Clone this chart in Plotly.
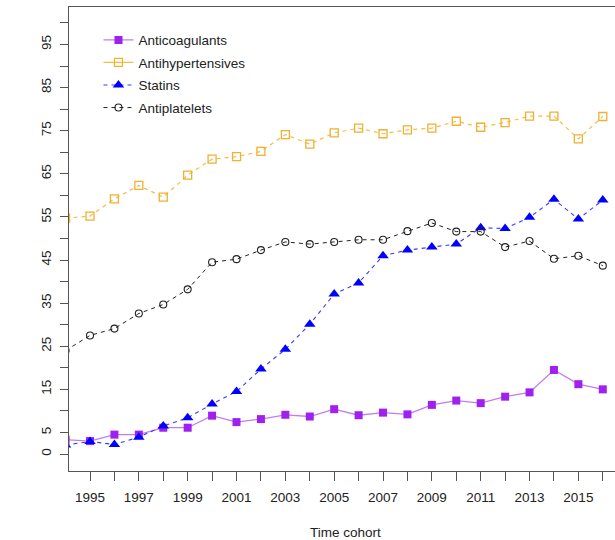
import plotly.graph_objects as go

years = list(range(1994, 2017))

anticoagulants = [3.3, 3.0, 4.5, 4.5, 6.1, 6.1, 8.9, 7.4, 8.1, 9.1, 8.7, 10.4, 9.0,
                  9.6, 9.2, 11.4, 12.4, 11.8, 13.3, 14.3, 19.5, 16.2, 15.0]
antihypertensives = [54.7, 55.2, 59.2, 62.3, 59.6, 64.7, 68.4, 69.0, 70.2, 74.1, 71.9, 74.5,
                     75.6, 74.3, 75.2, 75.6, 77.2, 75.8, 76.9, 78.4, 78.4, 73.1, 78.3]
statins = [2.1, 2.9, 2.2, 3.9, 6.5, 8.4, 11.6, 14.5, 19.7, 24.3, 30.1, 37.1, 39.7,
           46.0, 47.3, 48.0, 48.7, 52.5, 52.3, 54.9, 59.1, 54.5, 58.9]
antiplatelets = [24.0, 27.5, 29.1, 32.6, 34.7, 38.2, 44.5, 45.2, 47.3, 49.2, 48.7, 49.2,
                 49.7, 49.7, 51.7, 53.6, 51.6, 51.6, 48.0, 49.4, 45.3, 46.0, 43.7]

series_names = ["Anticoagulants", "Antihypertensives", "Statins", "Antiplatelets"]

x_tickvals = years
x_ticktext = [str(y) if y % 2 == 1 else "" for y in years]
y_tickvals = list(range(0, 101, 5))
y_ticktext = [str(v) if (v == 0 or v % 10 == 5) else "" for v in y_tickvals]

FONT = "Liberation Sans, Arial, sans-serif"
TXT = "#222222"
FS = 13.5

fig = go.Figure()

# Anticoagulants
fig.add_trace(go.Scatter(
    x=years, y=anticoagulants, name=series_names[0], mode="lines+markers",
    legendgroup="g1",
    line=dict(color="#C27CF2", width=1.3),
    marker=dict(symbol="square", size=8, color="#A020F0", line=dict(width=0)),
))
# Antihypertensives (plot: dashed; legend: solid)
fig.add_trace(go.Scatter(
    x=years, y=antihypertensives, name=series_names[1], mode="lines+markers",
    showlegend=False, legendgroup="g2",
    line=dict(color="#F3BE45", width=1.2, dash="4px,4px"),
    marker=dict(symbol="square-open", size=8, color="#F0B030", line=dict(width=1.3)),
))
fig.add_trace(go.Scatter(
    x=[None], y=[None], name=series_names[1], mode="lines+markers",
    legendgroup="g2",
    line=dict(color="#F3BE45", width=1.2),
    marker=dict(symbol="square-open", size=8, color="#F0B030", line=dict(width=1.3)),
))
# Statins
fig.add_trace(go.Scatter(
    x=years, y=statins, name=series_names[2], mode="lines+markers",
    legendgroup="g3",
    line=dict(color="#3A3AFF", width=1.1, dash="4px,4px"),
    marker=dict(symbol="triangle-up", size=10, color="#0000FF", line=dict(width=0)),
))
# Antiplatelets
fig.add_trace(go.Scatter(
    x=years, y=antiplatelets, name=series_names[3], mode="lines+markers",
    legendgroup="g4",
    line=dict(color="#222222", width=1.0, dash="4px,4px"),
    marker=dict(symbol="circle-open", size=7, color="#222222", line=dict(width=1.1)),
))

fig.update_layout(
    width=615, height=540,
    margin=dict(l=69, r=0, t=7, b=69),
    paper_bgcolor="white", plot_bgcolor="white",
    font=dict(family=FONT, size=FS, color=TXT),
    legend=dict(
        x=0.054, y=0.962, xanchor="left", yanchor="top",
        bgcolor="rgba(0,0,0,0)", borderwidth=0,
        font=dict(family=FONT, size=FS, color=TXT),
        traceorder="grouped", tracegroupgap=2, itemwidth=30,
    ),
    xaxis=dict(
        range=[1994.14, 2016.5], tickmode="array", tickvals=x_tickvals, ticktext=x_ticktext,
        showgrid=False, zeroline=False,
        showline=True, linecolor="#555555", linewidth=1.2, mirror=True,
        ticks="outside", ticklen=9, tickcolor="#555555", tickwidth=1.2,
        tickfont=dict(family=FONT, size=FS, color=TXT), ticklabelstandoff=5,
    ),
    yaxis=dict(
        range=[-3.94, 103.7], tickmode="array", tickvals=y_tickvals, ticktext=y_ticktext,
        showgrid=False, zeroline=False,
        showline=True, linecolor="#555555", linewidth=1.2, mirror=False,
        ticks="outside", ticklen=8, tickcolor="#555555", tickwidth=1.2,
        tickangle=-90, tickfont=dict(family=FONT, size=FS, color=TXT), ticklabelstandoff=4,
    ),
    annotations=[dict(
        text="Time cohort", xref="paper", yref="paper", x=0.507, y=-0.1315,
        xanchor="center", yanchor="middle", showarrow=False,
        font=dict(family=FONT, size=FS, color=TXT),
    )],
)

fig.write_html("out.html", config={"displayModeBar": False},
               post_script="document.body.style.margin='0';")
